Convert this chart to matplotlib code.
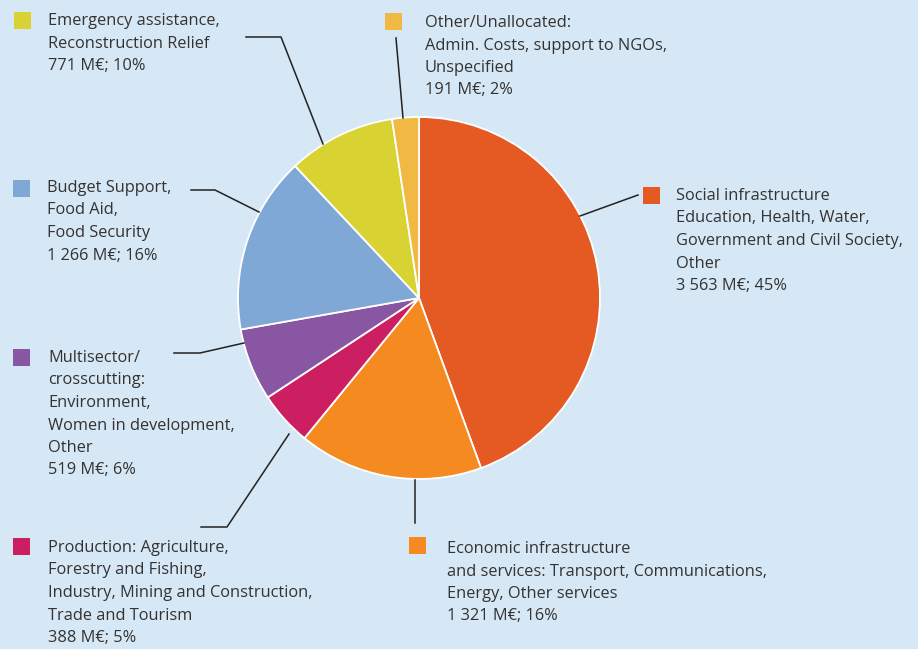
import matplotlib.pyplot as plt
from matplotlib.patches import Rectangle

W, H = 918, 649

# data
sectors = ["Social infrastructure", "Economic infrastructure", "Production",
           "Multisector", "Budget Support", "Emergency assistance", "Other/Unallocated"]
values = [3563, 1321, 388, 519, 1266, 771, 191]
colors = ["#e55a22", "#f58b20", "#cc1f62", "#8856a2", "#80a8d7", "#d9d233", "#f0b944"]
label_lines = [
    ["Social infrastructure", "Education, Health, Water,", "Government and Civil Society,",
     "Other", "3 563 M€; 45%"],
    ["Economic infrastructure", "and services: Transport, Communications,",
     "Energy, Other services", "1 321 M€; 16%"],
    ["Production: Agriculture,", "Forestry and Fishing,",
     "Industry, Mining and Construction,", "Trade and Tourism", "388 M€; 5%"],
    ["Multisector/", "crosscutting:", "Environment,", "Women in development,",
     "Other", "519 M€; 6%"],
    ["Budget Support,", "Food Aid,", "Food Security", "1 266 M€; 16%"],
    ["Emergency assistance,", "Reconstruction Relief", "771 M€; 10%"],
    ["Other/Unallocated:", "Admin. Costs, support to NGOs,", "Unspecified", "191 M€; 2%"],
]

# layout in pixels (x, y from top)
text_pos = [(676, 196), (447, 549), (48, 548), (48, 358), (47, 188), (48, 21), (425, 23)]
square_pos = [(643, 187), (409, 537), (13, 538), (13, 349), (13, 180), (14, 12), (385, 13)]
leaders = [
    [(638, 195), (580, 216)],
    [(415, 523), (415, 480)],
    [(201, 527), (227, 527), (289, 434)],
    [(174, 353), (200, 353), (244, 343)],
    [(191, 190), (215, 190), (259, 212)],
    [(246, 37), (281, 37), (323, 144)],
    [(396, 38), (403, 118)],
]
pitch = 22.5
bg = "#d6e7f5"
txtcol = "#333333"

fig = plt.figure(figsize=(W / 100, H / 100), dpi=100, facecolor=bg)
ax = fig.add_axes([0, 0, 1, 1])
ax.set_facecolor(bg)

def fy(y):
    return H - y

ax.pie(values, colors=colors, startangle=90, counterclock=False,
       center=(419, fy(298)), radius=181, frame=True,
       wedgeprops=dict(edgecolor="white", linewidth=1.3))
ax.set_xlim(0, W)
ax.set_ylim(0, H)
ax.set_aspect("equal")
ax.axis("off")

for lines, (tx, ty), (sx, sy), col in zip(label_lines, text_pos, square_pos, colors):
    ax.add_patch(Rectangle((sx, fy(sy + 17)), 17, 17, facecolor=col, edgecolor="none"))
    for i, ln in enumerate(lines):
        ax.text(tx, fy(ty + i * pitch), ln, fontsize=11.8, color=txtcol,
                family="Open Sans", va="center", ha="left")

for pts in leaders:
    xs = [p[0] for p in pts]
    ys = [fy(p[1]) for p in pts]
    ax.plot(xs, ys, color="#222222", linewidth=1.1)

fig.savefig("out.png", dpi=100, facecolor=bg)
